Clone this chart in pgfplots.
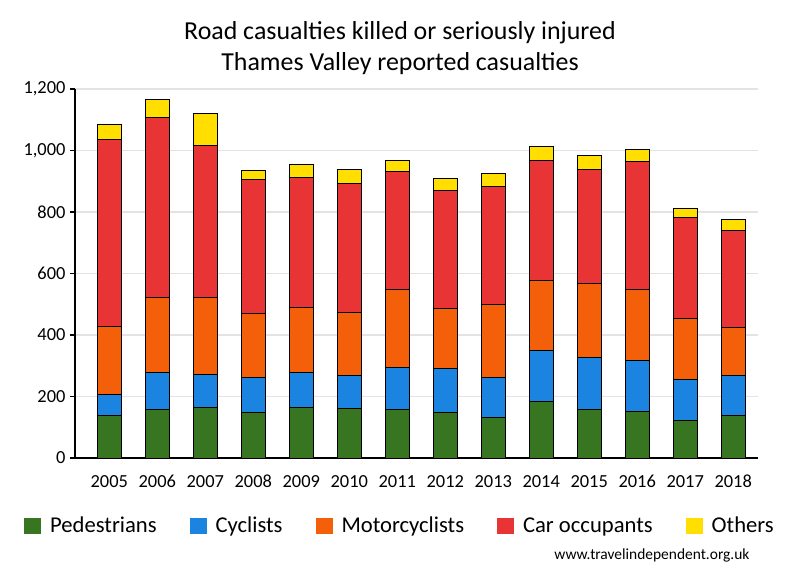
\documentclass[border=0pt]{standalone}
\usepackage{pgfplots}
\pgfplotsset{compat=1.18}
\usepackage{pgfplotstable}
\usepackage{fontspec}
\setmainfont{Carlito}
\definecolor{cPed}{HTML}{377521}
\definecolor{cCyc}{HTML}{1B84E0}
\definecolor{cMot}{HTML}{F45F0A}
\definecolor{cCar}{HTML}{E83434}
\definecolor{cOth}{HTML}{FFDE00}
\pgfplotstableread{
x year ped cyc mot car oth
0 2005 138 68 221 609 50
1 2006 157 121 244 586 58
2 2007 164 107 251 495 104
3 2008 148 113 209 436 30
4 2009 164 114 211 423 43
5 2010 161 107 205 420 46
6 2011 157 137 254 384 36
7 2012 148 143 195 384 39
8 2013 131 130 238 384 43
9 2014 183 166 228 391 45
10 2015 157 170 240 372 45
11 2016 151 166 231 417 39
12 2017 122 133 199 328 30
13 2018 138 130 156 316 36
}\data
\begin{document}
\begin{tikzpicture}
\path[use as bounding box] (0,0) rectangle (800bp,580bp);
\node[font=\fontsize{26}{31}\selectfont, align=center] at (400bp,532bp) {Road casualties killed or seriously injured\\Thames Valley reported casualties};
\node[font=\fontsize{15.5}{17}\selectfont, anchor=east] at (753bp,25bp) {www.travelindependent.org.uk};
\begin{axis}[
  at={(75bp,122bp)}, anchor=south west,
  scale only axis, width=682.7bp, height=369bp,
  ybar stacked, bar width=24bp,
  xmin=-0.714, xmax=13.51,
  ymin=0, ymax=1200,
  xtick=data, xticklabels from table={\data}{year},
  ytick={0,200,...,1200},
  axis lines*=left,
  axis line style={black, line width=1.7bp},
  x axis line style={-}, y axis line style={-},
  xtick style={draw=none},
  ytick style={black, line width=1.2bp},
  tick align=outside, major tick length=5bp,
  ymajorgrids, grid style={gray!22, line width=1.3bp},
  scaled y ticks=false,
  /pgf/number format/.cd, 1000 sep={,}, assume math mode=true,
  /pgfplots/.cd,
  tick label style={font=\fontsize{18.5}{20}\selectfont, text=black},
  yticklabel style={xshift=-1bp},
  xticklabel style={text height=13bp, text depth=0bp, yshift=-8bp},
  every axis plot/.append style={draw=black, line width=0.9bp},
  legend style={at={(0.476,-0.184)}, anchor=center, draw=none, fill=none,
    legend columns=5, font=\fontsize{22.7}{25}\selectfont,
    nodes={text height=17bp, text depth=3bp},
    /tikz/every odd column/.append style={column sep=7bp},
    /tikz/every even column/.append style={column sep=31bp}},
  legend cell align=left,
  legend image code/.code={\path[#1, draw=none] (0bp,-8bp) rectangle (17bp,8bp);},
]
\addplot[fill=cPed] table[x=x, y=ped] {\data};
\addplot[fill=cCyc] table[x=x, y=cyc] {\data};
\addplot[fill=cMot] table[x=x, y=mot] {\data};
\addplot[fill=cCar] table[x=x, y=car] {\data};
\addplot[fill=cOth] table[x=x, y=oth] {\data};
\legend{Pedestrians, Cyclists, Motorcyclists, Car occupants, Others}
\end{axis}
\end{tikzpicture}
\end{document}
